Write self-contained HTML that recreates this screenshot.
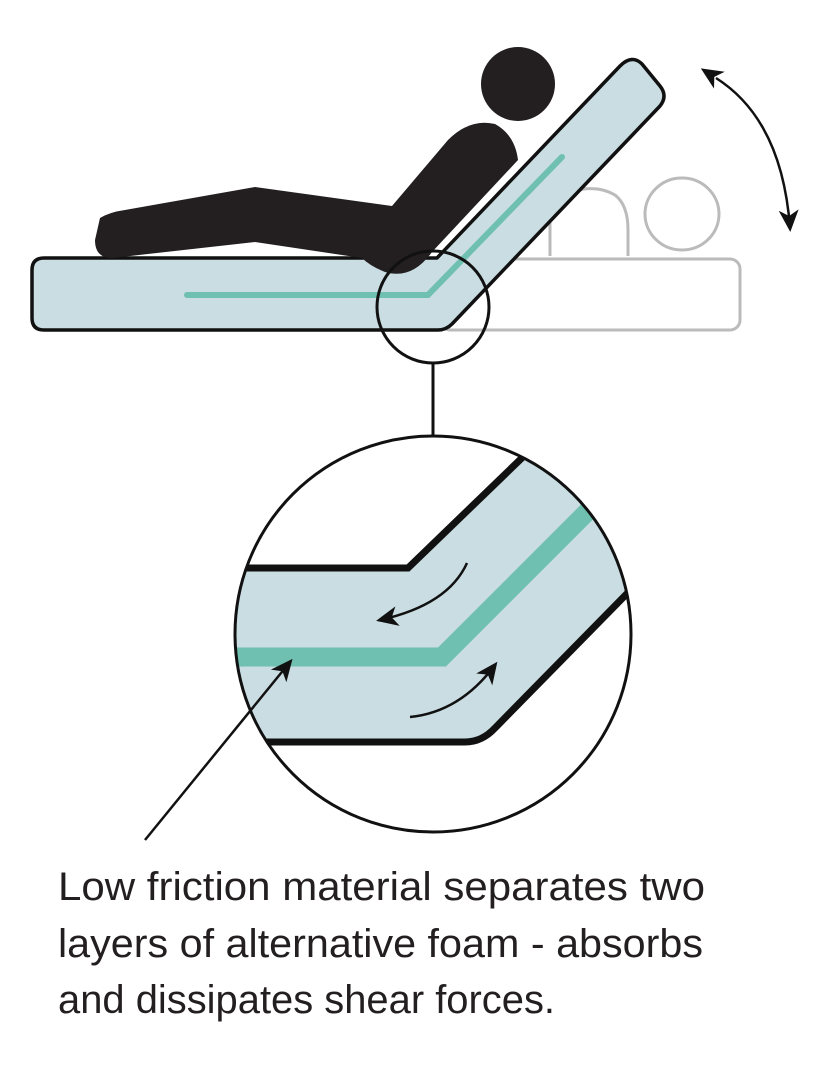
<!DOCTYPE html>
<html><head><style>html,body{margin:0;padding:0;background:#fff}svg{display:block}</style></head>
<body>
<svg width="826" height="1067" viewBox="0 0 826 1067" xmlns="http://www.w3.org/2000/svg">
<defs>
<marker id="ahb" markerWidth="22" markerHeight="22" refX="18" refY="11" orient="auto" markerUnits="userSpaceOnUse" viewBox="0 0 22 22">
<path d="M0,1 L22,11 L0,21 L6,11 Z" fill="#111"/></marker>
<marker id="ahs" markerWidth="22" markerHeight="22" refX="4" refY="11" orient="auto-start-reverse" markerUnits="userSpaceOnUse" viewBox="0 0 22 22">
<path d="M0,1 L22,11 L0,21 L6,11 Z" fill="#111"/></marker>
<clipPath id="cc"><circle cx="433" cy="634" r="198"/></clipPath>
</defs>
<rect x="440" y="259" width="300" height="71" rx="10" fill="#fff" stroke="#bbb" stroke-width="3"/>
<path d="M550,256 L550,200 Q590,180 615,195 Q628,205 628,230 L628,256" fill="#fff" stroke="#bbb" stroke-width="3"/>
<ellipse cx="682" cy="214" rx="37" ry="36" fill="#fff" stroke="#bbb" stroke-width="3"/>
<path d="M44,258 L437,258 L620,66 Q632,54 642,64 L660,86 Q668,96 660,106 L452,324 Q446,330 438,330 L44,330 Q32,330 32,318 L32,270 Q32,258 44,258 Z" fill="#c9dde2" stroke="#111" stroke-width="3.5" stroke-linejoin="round"/>
<path d="M187,295 L428,295 L562,157" fill="none" stroke="#6fc0b0" stroke-width="6" stroke-linecap="round"/>
<ellipse cx="518" cy="84" rx="37" ry="37" fill="#231f20"/>
<path d="M100,218 Q110,212 125,210 L255,187 L392,206 L448,140 Q470,118 495,124 Q515,135 518,160 L432,252 Q412,280 385,272 Q370,266 362,258 L255,242 L112,258 Q95,258 95,240 Z" fill="#231f20"/>
<path d="M716,78 Q782,120 790,228" fill="none" stroke="#111" stroke-width="2.5" marker-start="url(#ahs)" marker-end="url(#ahb)"/>
<circle cx="433" cy="307" r="56" fill="none" stroke="#111" stroke-width="3"/>
<line x1="433" y1="363" x2="433" y2="436" stroke="#111" stroke-width="3"/>
<g clip-path="url(#cc)">
<path d="M200,568 L408,568 L525,455 L700,455 L700,560 L627,596 L495,728 Q482,742 465,742 L200,742 Z" fill="#c9dde2"/>
<path d="M200,568 L408,568 L525,455" fill="none" stroke="#111" stroke-width="7"/>
<path d="M660,560 L495,728 Q482,742 465,742 L200,742" fill="none" stroke="#111" stroke-width="7"/>
<path d="M200,657 L442,657 L600,499" fill="none" stroke="#6fc0b0" stroke-width="19"/>
</g>
<circle cx="433" cy="634" r="198" fill="none" stroke="#111" stroke-width="3"/>
<path d="M467,563 Q448,605 380,620" fill="none" stroke="#111" stroke-width="2.5" marker-end="url(#ahb)"/>
<path d="M410,717 Q460,712 495,665" fill="none" stroke="#111" stroke-width="2.5" marker-end="url(#ahb)"/>
<line x1="145" y1="840" x2="290" y2="662" stroke="#111" stroke-width="2.5" marker-end="url(#ahb)"/>
<g font-family="Liberation Sans, Arial, sans-serif" font-size="40" fill="#231f20">
<text x="58" y="900" textLength="647" lengthAdjust="spacingAndGlyphs">Low friction material separates two</text>
<text x="58" y="957" textLength="645" lengthAdjust="spacingAndGlyphs">layers of alternative foam - absorbs</text>
<text x="58" y="1013" textLength="497" lengthAdjust="spacingAndGlyphs">and dissipates shear forces.</text>
</g>
</svg>
</body></html>
